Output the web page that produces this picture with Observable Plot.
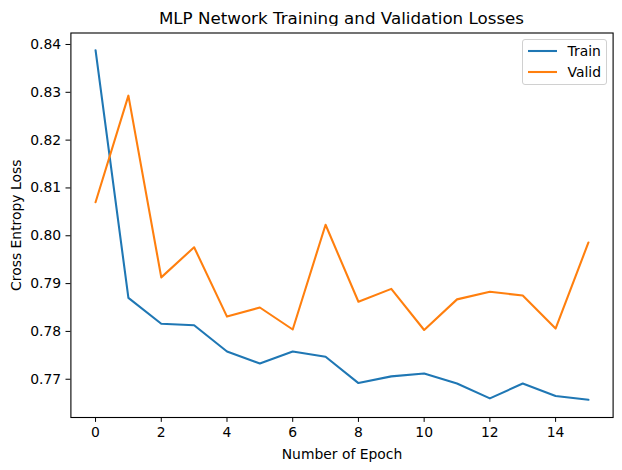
<!DOCTYPE html>
<html><head><meta charset="utf-8">
<script src="https://cdn.jsdelivr.net/npm/d3@7"></script>
<script src="https://cdn.jsdelivr.net/npm/@observablehq/plot@0.6"></script>
<style>
body{margin:0;background:#fff;font-family:"DejaVu Sans",sans-serif;}
#wrap{position:relative;width:622px;height:470px;background:#fff;}
#title{position:absolute;left:70.4px;width:542.2px;top:7px;text-align:center;font-size:16.7px;line-height:22px;color:#000;white-space:nowrap;}
#chart{position:absolute;left:0;top:26px;}
#legend{position:absolute;left:522px;top:39px;width:84.5px;height:46px;box-sizing:border-box;border:1px solid #d0d0d0;border-radius:3px;background:rgba(255,255,255,0.8);font-size:13.9px;color:#000;}
.item{position:absolute;left:5px;height:20px;display:flex;align-items:center;}
.item svg{width:29px;height:6px;margin-right:10.5px;}
</style></head><body>
<div id="wrap">
<div id="title">MLP Network Training and Validation Losses</div>
<div id="chart"></div>
<div id="legend"></div>
</div>
<script>
const epochs = [0,1,2,3,4,5,6,7,8,9,10,11,12,13,14,15];
const trainLoss = [0.8388,0.7870,0.7816,0.7813,0.7758,0.7733,0.7758,0.7747,0.7692,0.7706,0.7712,0.7691,0.7660,0.7691,0.7665,0.7657];
const validLoss = [0.8070,0.8293,0.7913,0.7976,0.7831,0.7850,0.7804,0.8023,0.7862,0.7889,0.7803,0.7867,0.7883,0.7875,0.7806,0.7986];
const seriesNames = ["Train","Valid"];
const seriesColors = ["#1f77b4","#ff7f0e"];
const xTicks = [0,2,4,6,8,10,12,14];
const yTicks = [0.77,0.78,0.79,0.80,0.81,0.82,0.83,0.84];

const rows = [];
epochs.forEach((e,i)=>{ rows.push({epoch:e, loss:trainLoss[i], series:"Train"}); });
epochs.forEach((e,i)=>{ rows.push({epoch:e, loss:validLoss[i], series:"Valid"}); });

const chart = Plot.plot({
  width:622, height:444,
  marginLeft:70.4, marginRight:9.4, marginTop:6.5, marginBottom:53,
  x:{domain:[-0.75,15.75]},
  y:{domain:[0.7620,0.8424]},
  color:{domain:seriesNames, range:seriesColors},
  style:{fontFamily:"DejaVu Sans", fontSize:"13.9px", color:"#000", background:"#fff", overflow:"visible"},
  marks:[
    Plot.line(rows,{x:"epoch", y:"loss", stroke:"series", strokeWidth:2.08, strokeLinejoin:"round"}),
    Plot.frame({stroke:"#000", strokeWidth:1.1}),
    Plot.axisX({ticks:xTicks, tickSize:4.9, tickPadding:4.9, tickFormat:d=>String(d), label:"Number of Epoch", labelAnchor:"center", labelArrow:"none", labelOffset:41}),
    Plot.axisY({ticks:yTicks, tickSize:4.9, tickPadding:4.9, tickFormat:d3.format(".2f"), label:"Cross Entropy Loss", labelAnchor:"center", labelArrow:"none", labelOffset:60})
  ]
});
document.getElementById("chart").appendChild(chart);

const legend = document.getElementById("legend");
seriesNames.forEach((name,i)=>{
  const item = document.createElement("div");
  item.className = "item";
  item.style.top = (1 + i*20.7) + "px";
  item.innerHTML = `<svg viewBox="0 0 29 6"><line x1="0" x2="29" y1="3" y2="3" stroke="${seriesColors[i]}" stroke-width="2.08"/></svg><span>${name}</span>`;
  legend.appendChild(item);
});
</script>
</body></html>
